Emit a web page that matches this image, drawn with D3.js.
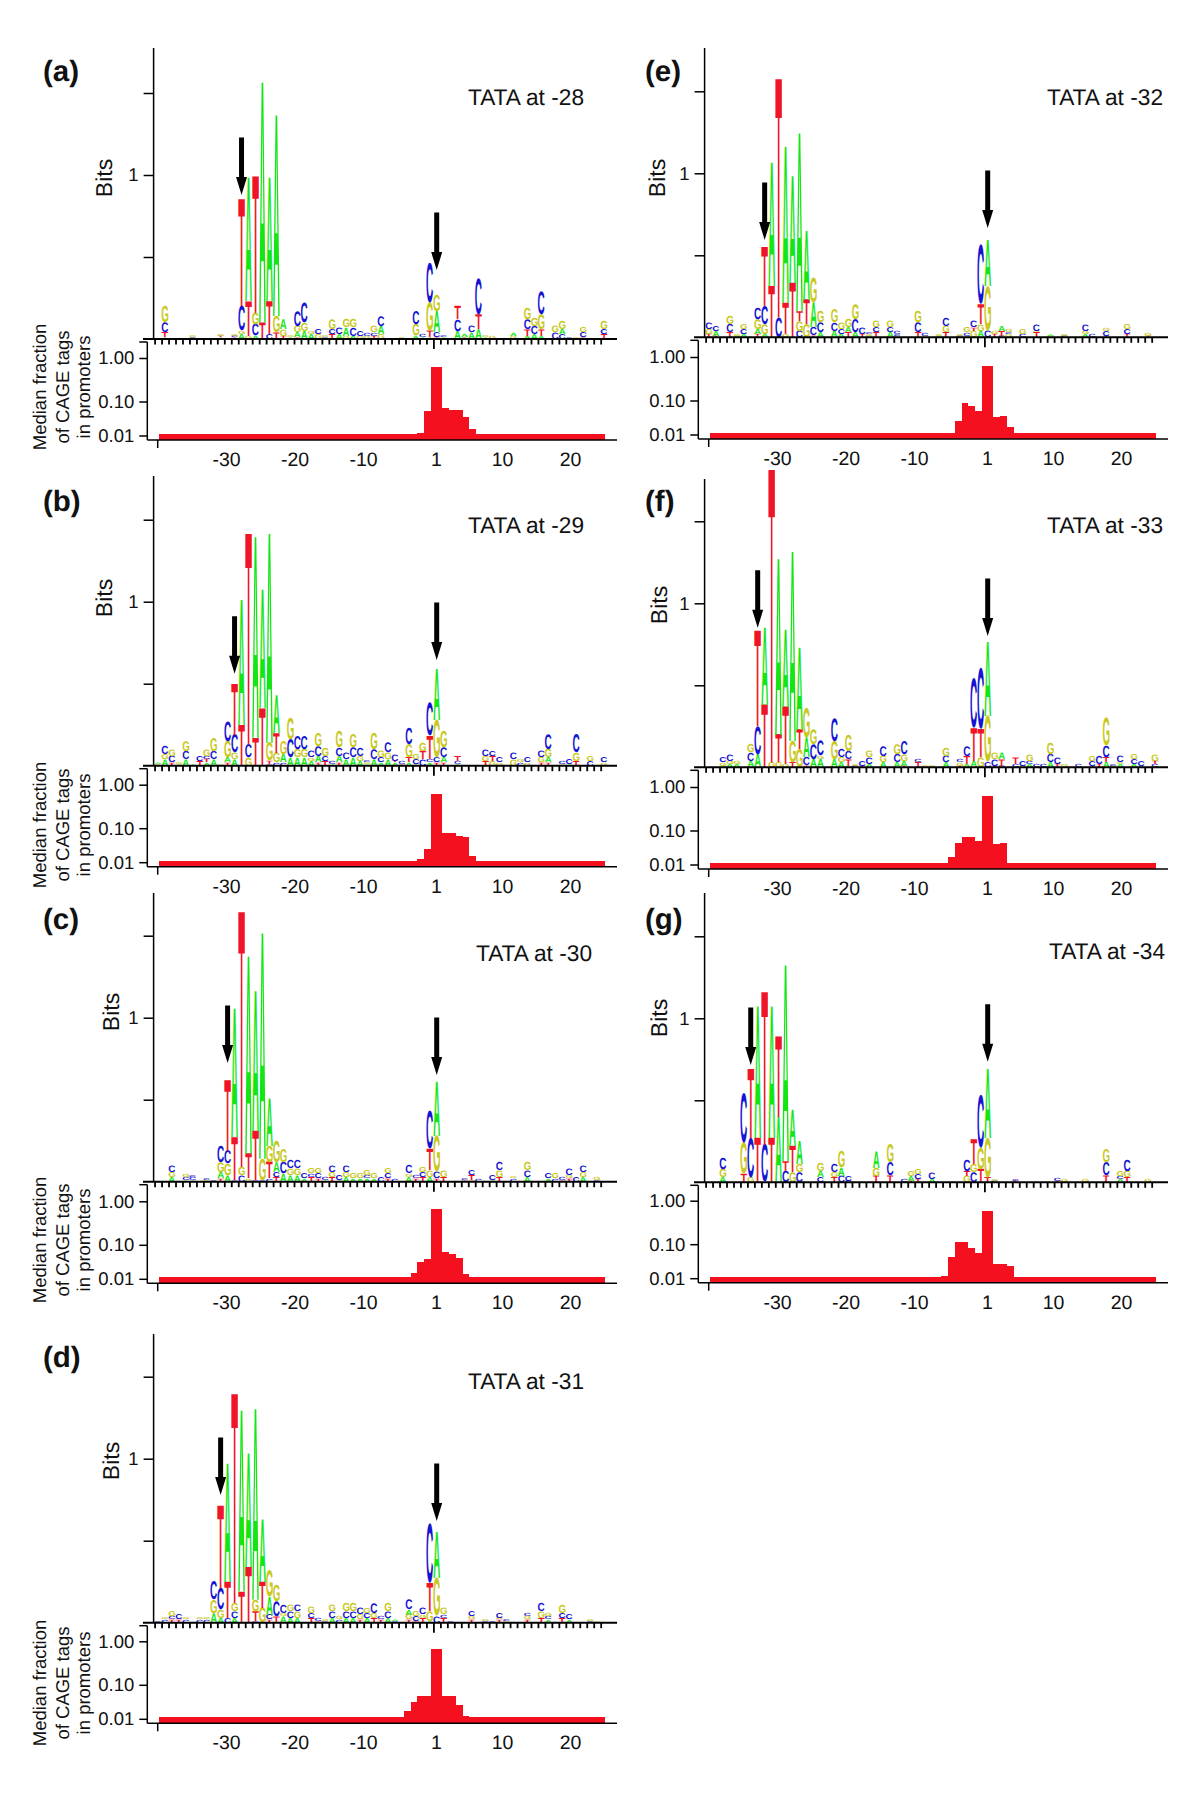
<!DOCTYPE html>
<html>
<head>
<meta charset="utf-8">
<script src="https://cdnjs.cloudflare.com/ajax/libs/d3/7.8.5/d3.min.js"></script>
<style>
  body { margin: 0; background: #fff; }
  svg { display: block; font-family: "Liberation Sans", sans-serif; fill: #111; text-rendering: geometricPrecision; }
</style>
</head>
<body>
<svg width="1200" height="1797"></svg>
<script>
// Logo stacks: [position, "letter + height" from the bottom up], height in 1/100 bit
const logoA = [[-39,"A1 T3 C6 G10"],[-35,"C1 G1"],[-31,"A1 T1 G1"],[-29,"T1 C1 G1"],[-28,"A3 G2 C15 T65"],[-27,"G2 T21 A75"],[-26,"A2 C7 G7 T83"],[-25,"T10 A146"],[-24,"C3 T20 A75"],[-23,"T4 G10 A122"],[-22,"T2 G4 A6"],[-21,"A1 G1"],[-20,"T1 A3 G4 C9"],[-19,"A5 G5 C12"],[-18,"A3 G2"],[-17,"G3 C3"],[-16,"C1 G1"],[-15,"T3 C3 G6"],[-14,"A3 C4"],[-13,"G2 A5 G5"],[-12,"A2 C5 G5"],[-11,"G2 C3"],[-10,"G2 C2"],[-9,"T2 C2 G4"],[-8,"G3 A5 C6"],[-5,"G1"],[-3,"A2 G7 C8"],[-2,"A1 C2"],[-1,"A1 T4 G17 C24"],[1,"T1 C3 A13 G10"],[2,"A1 C1"],[4,"A5 C7 T8"],[5,"T1 A2"],[6,"A4 C4"],[7,"A6 T9 C22"],[8,"A1 G1"],[9,"G2"],[12,"G2 A2"],[14,"A2 T4 C6 G7"],[15,"A3 C5 G5"],[16,"A2 T4 G9 C14"],[18,"C4 G4"],[19,"C3 A3 G5"],[20,"C1"],[21,"G1"],[22,"T1 C3 G3"],[25,"T3 C3 G5"]];
const logoB = [[-40,"G1 A1"],[-39,"A4 G3 C5"],[-38,"T2 C4 G4"],[-37,"A1 G1"],[-36,"A4 C5 G6"],[-35,"A1"],[-34,"T3 C3"],[-33,"A2 T2 C2 G4"],[-32,"A4 C5 G8"],[-31,"G1"],[-30,"T2 A3 G10 C12"],[-29,"A4 G4 C11 T31"],[-28,"T25 A76"],[-27,"G5 C8 T128"],[-26,"T17 A122"],[-25,"T35 A72"],[-24,"C1 T2 G11 A127"],[-23,"C2 G6 T12 A23"],[-22,"C2 A5 G8"],[-21,"A5 C11 G13"],[-20,"A5 G5 C8"],[-19,"A5 G5 C8"],[-18,"A3 G2 C4"],[-17,"T2 A4 C6 G8"],[-16,"T3 C3 G5"],[-15,"A1 C2"],[-14,"T2 A4 C5 G10"],[-13,"A4 C4"],[-12,"A5 C6 G8"],[-11,"A3 G3 C5"],[-10,"A1 G1 C1"],[-9,"A4 C6 G10"],[-8,"A2 C3 G4"],[-7,"A4 G4 C6"],[-6,"A2 T1 C4"],[-5,"T1 C2"],[-4,"A2 T3 G8 C10"],[-3,"A1 C3 G3"],[-2,"C4 T5 G5"],[-1,"A2 C2 T14 C20"],[1,"T2 C3 G23 A31"],[2,"T2 A3 C6 G10"],[4,"A1 C2 T3"],[8,"T3 G3 C4"],[9,"G3 T3 C3"],[10,"G2 C3"],[12,"G4 C4"],[13,"C2 G2"],[14,"G2 C3"],[16,"T2 G3 C4"],[17,"T2 A3 G5 C9"],[19,"G1 C2"],[20,"A1 C3"],[21,"T3 G5 C11"],[23,"C3 G3"],[25,"G2 C3"]];
const logoC = [[-38,"A3 G3 C4"],[-36,"A1 C2 G2"],[-35,"A1 C2 C1"],[-33,"G1 C1"],[-32,"C1"],[-31,"T2 A4 G6 C10"],[-30,"A4 G7 C8 T43"],[-29,"C1 T26 A78"],[-28,"C4 G5 T155"],[-27,"G2 T15 A120"],[-26,"C1 T30 A85"],[-25,"C1 G13 A137"],[-24,"C2 T10 G10 A29"],[-23,"T3 C3 A6 G13"],[-22,"A5 C7 G8"],[-21,"A4 G4 C5"],[-20,"A4 G4 C5"],[-19,"A2 C3"],[-18,"T3 C2 G3"],[-17,"T2 C3 G3"],[-16,"A1 C2"],[-15,"T3 G3 C4"],[-14,"A1 C3"],[-13,"A3 G3 C4"],[-12,"A2 G3"],[-11,"A2 G3"],[-10,"A2 C2 G3"],[-9,"A2 G3"],[-8,"C3"],[-7,"T2 C3 G3"],[-6,"C2"],[-4,"A3 G2 C5"],[-3,"T2 C2"],[-2,"T3 C3 G3"],[-1,"A3 G4 T13 C23"],[1,"T2 C4 G22 A33"],[2,"T3 G4"],[5,"T1 C1"],[6,"G1 T3 C3"],[7,"C2"],[9,"A1 C3"],[10,"T3 G4 C5"],[12,"C2 G1"],[14,"A3 C4 G5"],[17,"A2 C3"],[18,"C2 G3"],[19,"T1 C2"],[20,"T2 G2 C4"],[21,"C3"],[22,"A3 G3 C4"],[24,"C1 G2"]];
const logoD = [[-40,"C1"],[-39,"C2 G1"],[-38,"T2 C2 G3"],[-37,"T2 C3"],[-36,"C2 G1"],[-34,"C2 G1"],[-33,"C2 G1"],[-32,"A6 G8 C11"],[-31,"A3 G5 C13 T50"],[-30,"C3 T22 A72"],[-29,"A3 C4 G5 T127"],[-28,"T19 A110"],[-27,"T34 A69"],[-26,"C1 T6 G7 A116"],[-25,"G9 T16 A38"],[-24,"T2 C3 A11 G16"],[-23,"T4 C9 G10"],[-22,"A4 G2 C5"],[-21,"A3 C4 G4"],[-20,"A3 G4 C4"],[-18,"T3 C3 G4"],[-17,"T1 C2"],[-16,"C1 G1"],[-15,"A3 C4 G4"],[-14,"C2 G2"],[-13,"A3 C4 G5"],[-12,"A3 C4 G5"],[-11,"T2 G3 C4"],[-10,"A3 C3 G3"],[-9,"T3 G3 C6"],[-8,"T2 C2"],[-7,"A3 C4 G5"],[-6,"C1 A1"],[-4,"T2 G3 A3 C6"],[-3,"T1 C3 G3"],[-2,"T3 G2 C4"],[-1,"A1 G6 T17 C36"],[1,"C4 G23 A28"],[2,"T3 C2 G4"],[3,"C1"],[6,"T2 G2 C3"],[8,"C1 G1"],[9,"C1"],[10,"T2 G1 C3"],[11,"G1 C1"],[14,"T2 G2 C2"],[16,"T3 G4 C5"],[17,"A2 C2 G2"],[19,"T3 C3 G5"],[20,"A2 C3"],[23,"C1 G1"],[24,"G1"]];
const logoE = [[-40,"T2 G3 C4"],[-39,"T1 A3 C3"],[-37,"T3 C5 G5"],[-36,"A1 G1"],[-35,"A2 C3 G3"],[-33,"T2 A3 G6 C7"],[-32,"A2 G6 C11 T36"],[-31,"T31 A75"],[-30,"C12 T145"],[-29,"G2 T19 A95"],[-28,"T33 A65"],[-27,"C4 G6 T6 A108"],[-26,"G8 T15 A42"],[-25,"T1 C5 A15 G15"],[-24,"A3 C6 G7"],[-22,"A4 C5 G8"],[-21,"A2 C3 G4"],[-20,"T3 A3 G5"],[-19,"A3 C8 G9"],[-18,"T2 C4"],[-17,"A1 G1 C1"],[-16,"T3 C3 G4"],[-14,"A3 C3 G4"],[-13,"G1 C1 C2"],[-10,"T3 C6 G7"],[-9,"G1 C2"],[-7,"A1 G1"],[-6,"T3 G4 C5"],[-4,"C1 G1"],[-3,"A1 C2 G3"],[-2,"G4 T2 C4"],[-1,"A4 G4 T12 C36"],[1,"C4 G27 A28"],[2,"T2 G2"],[3,"C1 T3 A3"],[4,"G2 C1 G2"],[6,"C2 G3"],[8,"T3 G1 C4"],[10,"G1 A1"],[12,"C1 G1"],[15,"A2 G2 C4"],[16,"C2"],[18,"T1 C3 G2"],[21,"T2 C3 G3"],[24,"T1 G2"]];
const logoF = [[-38,"A1 G2 C3"],[-37,"A2 G2 C4"],[-36,"A2 G2"],[-34,"A4 C5 G5"],[-33,"A8 C17 T58"],[-32,"T38 A47"],[-31,"G3 T178"],[-30,"G3 T17 A107"],[-29,"G2 T35 A47"],[-28,"T3 G13 A115"],[-27,"G11 T12 A50"],[-26,"T1 C5 A12 G18"],[-25,"A5 C9 G9"],[-24,"A5 G2 C9"],[-22,"A5 G11 C14"],[-21,"A3 G3 C5"],[-20,"A1 T4 C5 G10"],[-19,"C1 G1"],[-18,"T1 C3"],[-17,"A2 C4 G4"],[-15,"A3 G4 C6"],[-13,"A3 C5 G6"],[-12,"T1 A3 G4 C8"],[-10,"T3 C2"],[-9,"G1"],[-8,"G1"],[-6,"A3 C4 G5"],[-4,"T1 G2 C2"],[-3,"A2 T5 C6"],[-2,"A4 T20 C30"],[-1,"G6 T17 C37"],[1,"C3 G28 A45"],[2,"T1 C4 G4"],[3,"C1 T4 A4"],[5,"C2 T4"],[6,"G1 C3"],[7,"A2 C2 G4"],[8,"C2"],[9,"C2"],[10,"A3 C5 G7"],[11,"T2 C4"],[12,"G2"],[14,"C2"],[16,"T1 C3 G3"],[17,"T2 C5"],[18,"A3 T3 C7 G17"],[19,"G1 C1"],[20,"A2 G1 C4"],[22,"A2 C3 G3"],[23,"A1 C3"],[25,"C2 T2 G4"]];
const logoG = [[-38,"A3 G5 C7"],[-35,"T5 G19 C30"],[-34,"G3 C24 T42"],[-33,"T27 A80"],[-32,"C23 T93"],[-31,"T27 A80"],[-30,"A40 T49"],[-29,"C7 T6 A119"],[-28,"G6 T16 A22"],[-27,"C6 G5 A14"],[-24,"C3 A4 G5"],[-22,"T3 G3 C5"],[-21,"C4 A5 G10"],[-20,"C1 C3"],[-16,"T4 G5 A10"],[-14,"T4 C8 G11"],[-12,"C2"],[-11,"T1 A3 G3"],[-10,"T2 C3 G3"],[-8,"A2 C4"],[-3,"G4 T3 C7"],[-2,"C6 G5 T15"],[-1,"T8 G13 C32"],[1,"T3 G24 A42"],[2,"C1 G1"],[5,"T1 C1"],[11,"T1 C2"],[12,"G2"],[15,"G2"],[18,"T4 C8 G8"],[20,"A2 C2 G3"],[21,"T3 G4 C7"],[24,"G2"]];

// CAGE tag histogram: [bin offset from the +1 bar, median fraction]
const histA = [[-2,.0117],[-1,.052],[0,.62],[1,.066],[2,.056],[3,.056],[4,.035],[5,.0152]];
const histB = [[-2,.0127],[-1,.025],[0,.62],[1,.074],[2,.074],[3,.06],[4,.055],[5,.0155]];
const histC = [[-3,.0145],[-2,.031],[-1,.038],[0,.66],[1,.063],[2,.053],[3,.04],[4,.0138]];
const histD = [[-4,.0165],[-3,.031],[-2,.046],[-1,.046],[0,.66],[1,.046],[2,.046],[3,.025],[4,.0118]];
const histE = [[-4,.025],[-3,.084],[-2,.07],[-1,.05],[0,.62],[1,.033],[2,.034],[3,.0168]];
const histF = [[-5,.0168],[-4,.042],[-3,.065],[-2,.065],[-1,.05],[0,.62],[1,.04],[2,.043]];
const histG = [[-6,.0118],[-5,.041],[-4,.11],[-3,.11],[-2,.075],[-1,.054],[0,.57],[1,.027],[2,.027],[3,.023]];
const histTail = 0.011;

// Arrows: [column, tip height in bits]
const arrowsA = [[-28,.878],[1,.42]];
const arrowsB = [[-29,.56],[1,.645]];
const arrowsC = [[-30,.724],[1,.65]];
const arrowsD = [[-31,.779],[1,.62]];
const arrowsE = [[-32,.593],[1,.666]];
const arrowsF = [[-33,.851],[1,.80]];
const arrowsG = [[-34,.715],[1,.735]];

const bitTicks = [0.5, 1, 1.5];
const fractionTicks = [1, 0.1, 0.01];
const positionTicks = [-30, -20, -10, 1, 10, 20];
const columnTicks = d3.range(-40, 0).concat(d3.range(1, 26));
const colors = {A: '#14e614', C: '#1414d2', G: '#c8c81e', T: '#f01428'};

// Panel placement on the page
const panels = [
  {tag: '(a)', title: 'TATA at -28', logo: logoA, hist: histA, arrows: arrowsA, dx: 0, tagX: 43, base: 339, bottom: 440, top: 48, tagY: 71, titleX: 584, titleY: 98, bits: [104, 178], median: 387},
  {tag: '(b)', title: 'TATA at -29', logo: logoB, hist: histB, arrows: arrowsB, dx: 0, tagX: 43, base: 765.7, bottom: 866.7, top: 476, tagY: 501, titleX: 584, titleY: 526, bits: [104, 598], median: 825},
  {tag: '(c)', title: 'TATA at -30', logo: logoC, hist: histC, arrows: arrowsC, dx: 0, tagX: 43, base: 1181.7, bottom: 1283.3, top: 893, tagY: 919, titleX: 592, titleY: 954, bits: [111, 1012], median: 1240},
  {tag: '(d)', title: 'TATA at -31', logo: logoD, hist: histD, arrows: arrowsD, dx: 0, tagX: 43, base: 1622.7, bottom: 1723.3, top: 1334, tagY: 1357, titleX: 584, titleY: 1382, bits: [111, 1461], median: 1683},
  {tag: '(e)', title: 'TATA at -32', logo: logoE, hist: histE, arrows: arrowsE, dx: 551, tagX: 645, base: 337.3, bottom: 439, top: 48, tagY: 71, titleX: 1163, titleY: 98, bits: [657, 178]},
  {tag: '(f)', title: 'TATA at -33', logo: logoF, hist: histF, arrows: arrowsF, dx: 551, tagX: 645, base: 767.3, bottom: 869, top: 479, tagY: 501, titleX: 1163, titleY: 526, bits: [659, 605]},
  {tag: '(g)', title: 'TATA at -34', logo: logoG, hist: histG, arrows: arrowsG, dx: 551, tagX: 645, base: 1182.3, bottom: 1282.7, top: 893, tagY: 919, titleX: 1165, titleY: 952, bits: [659, 1018]}
];

const bitPx = 164, colStep = 6.97;
const svg = d3.select('svg');

// Ink box of each letter, so a stack can be stretched to its exact height.
// The canvas numbers come out a bit taller than what svg draws, hence inkFix
const inkFix = 1.024;
const ctx = document.createElement('canvas').getContext('2d');
ctx.font = 'bold 2000px "Liberation Sans"';
const ink = {};
'ACGT'.split('').forEach(l => {
  const m = ctx.measureText(l);
  ink[l] = {
    left: m.actualBoundingBoxLeft / 20,
    right: m.actualBoundingBoxRight / 20,
    up: m.actualBoundingBoxAscent / 20 / inkFix,
    down: m.actualBoundingBoxDescent / 20 / inkFix
  };
});

function drawLogo(g, p, x, y) {
  const stacks = p.logo.map(d => {
    let sum = 0;
    return d[1].split(' ').map(s => {
      const h = +s.slice(1);
      const item = {pos: d[0], letter: s[0], from: sum, to: sum + h / 100};
      sum += h / 100;
      return item;
    });
  }).flat();

  g.append('g').selectAll('text')
    .data(stacks).enter()
    .append('text')
    .text(d => d.letter)
    .attr('font-size', 100)
    .attr('font-weight', 'bold')
    .attr('fill', d => colors[d.letter])
    .attr('transform', d => {
      const m = ink[d.letter];
      const sx = (colStep - 0.3) / (m.left + m.right);
      const sy = (y(d.from) - y(d.to)) / (m.up + m.down);
      const left = x(d.pos) - (colStep - 0.3) / 2 + m.left * sx;
      const down = y(d.from) - m.down * sy;
      return 'translate(' + left + ',' + down + ') scale(' + sx + ',' + sy + ')';
    });
}

function drawHist(g, p) {
  const left = 159 + p.dx;
  // The +1 bar is wider than the others, so bins are not evenly spaced
  const binX = d3.scaleLinear().domain([0, 40, 41, 65]).range([left, left + 272, left + 283.3, left + 446]);
  const y = d3.scaleLog().domain(fractionTicks.slice().reverse()).range([p.bottom - 4.5, p.bottom - 38.5, p.bottom - 82]);
  const peak = new Map(p.hist);
  const bins = d3.range(65).map(i => ({i: i, value: peak.has(i - 40) ? peak.get(i - 40) : histTail}));

  g.append('g').selectAll('rect')
    .data(bins).enter()
    .append('rect')
    .attr('x', d => binX(d.i))
    .attr('width', d => binX(d.i + 1) - binX(d.i))
    .attr('y', d => y(d.value))
    .attr('height', d => p.bottom - y(d.value))
    .attr('fill', '#f5101f')
    .attr('shape-rendering', 'crispEdges');

  // Left axis of the histogram
  const axisX = 147.3 + p.dx;
  const axis = g.append('g').attr('transform', 'translate(' + axisX + ',0)')
    .call(d3.axisLeft(y).tickValues(fractionTicks).tickFormat(d3.format('.2f')).tickSize(8).tickSizeOuter(0));
  axis.select('.domain').attr('d', 'M0,' + (p.base + 3) + 'V' + p.bottom).attr('stroke-width', 1.5);
  axis.selectAll('.tick line').attr('stroke-width', 1.5);
  axis.selectAll('.tick text').attr('font-size', 18.5).attr('font-family', null).attr('dx', '-2').attr('fill', '#111');
  axis.append('line').attr('x1', -8).attr('y1', p.base + 3).attr('y2', p.base + 3).attr('stroke', '#000').attr('stroke-width', 1.5);

  // Bottom line and position labels, spacing of the printed labels is uneven
  g.append('line')
    .attr('x1', axisX).attr('x2', 617 + p.dx)
    .attr('y1', p.bottom).attr('y2', p.bottom)
    .attr('stroke', '#000').attr('stroke-width', 1.5);
  const labelX = d3.scaleLinear().domain([-30, -10, 1, 10, 20])
    .range([226, 363, 436, 502, 570].map(v => v + p.dx));
  const labels = g.append('g').attr('transform', 'translate(0,' + p.bottom + ')')
    .call(d3.axisBottom(labelX).tickValues(positionTicks).tickFormat(d => d).tickSize(0).tickPadding(12));
  labels.select('.domain').remove();
  labels.selectAll('text').attr('font-size', 19.5).attr('font-family', null).attr('fill', '#111');
  g.append('line')
    .attr('x1', 157.7 + p.dx).attr('x2', 157.7 + p.dx)
    .attr('y1', p.bottom).attr('y2', p.bottom + 8)
    .attr('stroke', '#000').attr('stroke-width', 1.5);
}

panels.forEach(p => {
  const g = svg.append('g');
  const x1 = 436.7 + p.dx;
  // Column -1 and column 1 are neighbours, there is no position 0
  const x = d3.scaleLinear().domain([-40, -1, 1, 25])
    .range([x1 - 40 * colStep, x1 - colStep, x1, x1 + 24 * colStep]);
  const y = d3.scaleLinear().domain([0, 1]).range([p.base, p.base - bitPx]);

  drawLogo(g, p, x, y);
  drawHist(g, p);

  // Bits axis
  const yAxis = g.append('g').attr('transform', 'translate(' + (153.6 + p.dx) + ',0)')
    .call(d3.axisLeft(y).tickValues(bitTicks).tickFormat(d => d === 1 ? '1' : '').tickSize(10).tickSizeOuter(0));
  yAxis.select('.domain').attr('d', 'M0,' + p.top + 'V' + p.base).attr('stroke-width', 1.5);
  yAxis.selectAll('.tick line').attr('stroke-width', 1.5);
  yAxis.selectAll('.tick text').attr('font-size', 18.5).attr('font-family', null).attr('dx', '-2').attr('fill', '#111');

  // Comb under the logo, +1 gets the long tick
  const comb = g.append('g').attr('transform', 'translate(-3.3,' + p.base + ')')
    .call(d3.axisBottom(x).tickValues(columnTicks).tickFormat('').tickSize(5).tickSizeOuter(0));
  comb.select('.domain').remove();
  comb.selectAll('.tick line')
    .attr('stroke-width', 1.8)
    .attr('y2', d => d === 1 ? 10 : 5.5);
  g.append('line')
    .attr('x1', 143 + p.dx).attr('x2', 617 + p.dx)
    .attr('y1', p.base).attr('y2', p.base)
    .attr('stroke', '#000').attr('stroke-width', 2);

  // Arrows at the TATA box and at +1
  g.append('g').selectAll('path')
    .data(p.arrows).enter()
    .append('path')
    .attr('fill', '#000')
    .attr('d', d => {
      const ax = x(d[0]), tip = y(d[1]);
      return 'M' + ax + ',' + tip + 'l-5.5,-18h3v-39.5h5v39.5h3z';
    });

  g.append('text').text(p.tag)
    .attr('x', p.tagX).attr('y', p.tagY + 10)
    .attr('font-size', 29.5).attr('font-weight', 'bold');
  g.append('text').text(p.title)
    .attr('x', p.titleX).attr('y', p.titleY + 7)
    .attr('text-anchor', 'end').attr('font-size', 22.7);
  g.append('text').text('Bits')
    .attr('transform', 'translate(' + p.bits[0] + ',' + p.bits[1] + ') rotate(-90)')
    .attr('text-anchor', 'middle').attr('dy', '.35em').attr('font-size', 23);

  if (p.median) {
    g.selectAll(null)
      .data([['Median fraction', 40], ['of CAGE tags', 63], ['in promoters', 84]]).enter()
      .append('text')
      .text(d => d[0])
      .attr('transform', d => 'translate(' + d[1] + ',' + p.median + ') rotate(-90)')
      .attr('text-anchor', 'middle').attr('dy', '.35em').attr('font-size', 18.5);
  }
});
</script>
</body>
</html>
